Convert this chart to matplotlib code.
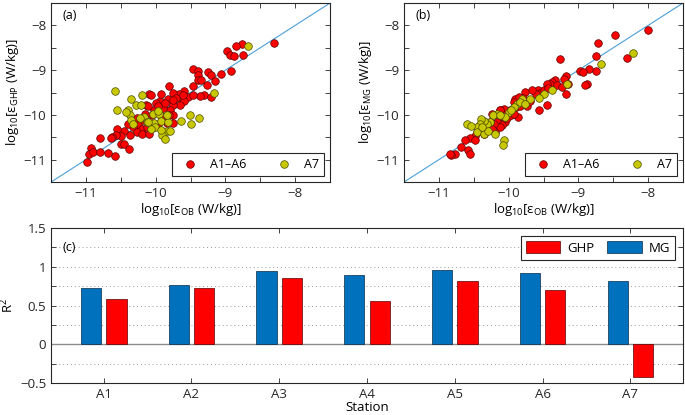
import matplotlib
matplotlib.use('Agg')
import matplotlib.pyplot as plt
from matplotlib.ticker import MultipleLocator

plt.rcParams['font.family'] = ['Open Sans', 'DejaVu Sans']
plt.rcParams['mathtext.fontset'] = 'custom'
plt.rcParams['mathtext.rm'] = 'Open Sans'
plt.rcParams['mathtext.it'] = 'Open Sans:italic'
plt.rcParams['font.size'] = 9

# ---------- panel (a): GHP vs OB ----------
a_red_x = [-8.31, -8.76, -8.85, -8.98, -8.94, -8.87, -8.75, -8.92, -9.07, -9.25,
           -9.21, -9.15, -9.47, -9.40, -9.39, -9.40, -9.47, -9.31, -9.37, -9.20,
           -9.81, -9.60, -9.66, -9.63, -9.75, -9.71, -9.53, -9.60, -9.65, -9.75,
           -9.80, -9.75, -9.89, -9.94, -9.92, -10.00, -10.03, -10.10, -10.14, -10.05,
           -10.15, -10.18, -10.27, -10.25, -10.32, -10.20, -10.13, -10.40, -10.45, -10.37,
           -10.49, -10.56, -10.57, -10.63, -10.49, -10.46, -10.38, -10.64, -10.80, -10.93,
           -10.96, -10.90, -10.80, -10.69, -10.58, -10.98, -10.06, -10.27, -10.20, -10.10,
           -10.02, -9.96, -9.89, -9.84, -9.75, -9.81, -9.82, -9.75, -9.97, -9.87,
           -10.11, -9.92, -9.61, -9.46, -9.35, -9.26]
a_red_y = [-8.39, -8.42, -8.46, -8.57, -8.67, -8.69, -8.66, -9.01, -9.08, -9.04,
           -9.10, -9.24, -8.98, -9.01, -9.11, -9.21, -9.36, -9.56, -9.58, -9.60,
           -9.35, -9.46, -9.53, -9.62, -9.52, -9.62, -9.59, -9.69, -9.77, -9.77,
           -9.90, -10.01, -9.84, -9.68, -9.53, -9.73, -9.90, -9.54, -9.78, -10.00,
           -9.99, -10.12, -10.06, -10.22, -10.27, -10.31, -10.27, -10.20, -10.35, -10.46,
           -10.48, -10.31, -10.46, -10.50, -10.64, -10.66, -10.76, -10.52, -10.51, -10.73,
           -10.87, -10.83, -10.84, -10.85, -10.92, -11.05, -9.56, -10.38, -10.42, -10.42,
           -10.27, -10.20, -10.10, -10.18, -10.18, -10.01, -9.65, -9.67, -9.79, -9.74,
           -9.80, -10.03, -9.55, -9.56, -9.23, -9.33]
a_yel_x = [-8.68, -9.16, -10.58, -10.55, -10.36, -10.20, -10.28, -10.39, -10.37, -10.35,
           -10.32, -10.42, -10.21, -10.16, -10.13, -10.04, -9.95, -10.03, -10.01, -9.92,
           -9.82, -9.84, -9.80, -9.91, -9.87, -9.92, -9.63, -9.51, -9.49, -9.38,
           -9.96, -10.11, -10.23, -10.06, -9.84]
a_yel_y = [-8.46, -9.52, -9.47, -9.90, -9.65, -9.56, -9.77, -9.90, -10.01, -10.11,
           -10.21, -9.94, -9.77, -10.05, -10.16, -9.99, -9.99, -10.18, -10.27, -10.14,
           -10.16, -10.36, -10.37, -10.46, -10.53, -10.33, -10.14, -10.00, -10.21, -10.07,
           -9.92, -10.16, -10.07, -10.31, -10.01]

# ---------- panel (b): MG vs OB ----------
b_red_x = [-8.00, -8.47, -8.72, -8.75, -8.75, -8.30, -9.26, -8.85, -8.97, -8.93,
           -8.88, -8.91, -9.18, -9.20, -9.15, -9.18, -9.34, -9.38, -9.41, -9.45,
           -9.45, -9.56, -9.58, -9.55, -9.61, -9.67, -9.76, -9.80, -9.84, -9.91,
           -9.93, -9.89, -9.98, -10.06, -10.12, -10.14, -10.17, -10.05, -10.09, -10.12,
           -10.21, -10.27, -10.29, -10.36, -10.41, -10.45, -10.48, -10.55, -10.48, -10.63,
           -10.68, -10.77, -10.82, -10.84, -10.58, -10.56, -10.24, -10.13, -10.03, -9.97,
           -9.86, -9.84, -9.74, -9.69, -9.50, -9.43, -9.31, -9.24, -9.85, -9.92,
           -10.20, -10.36, -10.24]
b_red_y = [-8.10, -8.21, -8.39, -8.69, -9.01, -8.72, -8.74, -8.97, -9.01, -9.04,
           -9.30, -9.33, -9.14, -9.19, -9.30, -9.53, -9.23, -9.27, -9.30, -9.30,
           -9.77, -9.90, -9.44, -9.51, -9.54, -9.45, -9.49, -9.62, -9.68, -9.64,
           -9.71, -9.82, -9.90, -9.86, -9.90, -10.05, -10.16, -10.16, -10.23, -10.27,
           -10.21, -10.16, -10.27, -10.33, -10.27, -10.38, -10.48, -10.51, -10.57, -10.57,
           -10.72, -10.88, -10.90, -10.88, -10.79, -10.87, -9.97, -9.88, -10.06, -10.01,
           -10.05, -9.79, -9.81, -9.68, -9.44, -9.39, -9.34, -9.38, -9.60, -9.97,
           -10.38, -10.42, -10.31]
b_yel_x = [-8.21, -8.68, -9.16, -9.38, -9.50, -9.57, -9.69, -9.81, -9.88, -9.93,
           -10.00, -10.05, -10.17, -10.22, -10.27, -10.31, -10.36, -10.40, -10.41, -10.46,
           -10.46, -10.35, -10.20, -10.60, -10.54, -10.06, -10.08, -9.84, -9.76, -9.97,
           -10.12, -10.29, -10.38]
b_yel_y = [-8.62, -8.87, -9.30, -9.45, -9.53, -9.62, -9.65, -9.64, -9.75, -9.82,
           -9.94, -10.05, -9.97, -10.01, -10.16, -10.20, -10.14, -10.09, -10.21, -10.27,
           -10.38, -10.42, -10.42, -10.20, -10.24, -10.55, -10.68, -9.71, -9.75, -9.90,
           -10.01, -10.35, -10.26]

# ---------- panel (c): R^2 per station ----------
stations = ['A1', 'A2', 'A3', 'A4', 'A5', 'A6', 'A7']
r2_mg = [0.73, 0.77, 0.94, 0.89, 0.96, 0.92, 0.82]
r2_ghp = [0.58, 0.72, 0.855, 0.56, 0.81, 0.70, -0.42]

lims = [-11.5, -7.5]
red = '#ff0000'
yel = '#c8c800'
blue = '#0072bd'
axcol = '#262626'

fig = plt.figure(figsize=(6.85, 4.15), dpi=100)
ax_a = fig.add_axes([0.0745, 0.5614, 0.4073, 0.4313])
ax_b = fig.add_axes([0.5898, 0.5614, 0.4073, 0.4313])
ax_c = fig.add_axes([0.0745, 0.0771, 0.9226, 0.3735])


def style_axes(ax):
    for s in ax.spines.values():
        s.set_color(axcol)
        s.set_linewidth(0.8)
    ax.tick_params(which='both', direction='in', top=True, right=True,
                   length=3.5, width=0.6, colors=axcol, labelsize=9.5)


for ax, rx, ry, yx, yy, lab, yname in [
        (ax_a, a_red_x, a_red_y, a_yel_x, a_yel_y, '(a)', 'GHP'),
        (ax_b, b_red_x, b_red_y, b_yel_x, b_yel_y, '(b)', 'MG')]:
    ax.plot(lims, lims, color='#4a9fd8', lw=0.8, zorder=1)
    ax.scatter(rx, ry, s=30, c=red, edgecolors='#5a0000', linewidths=0.5,
               label='A1\u2013A6', zorder=3)
    ax.scatter(yx, yy, s=30, c=yel, edgecolors='#4a4a00', linewidths=0.5,
               label='A7', zorder=3)
    ax.set_xlim(lims)
    ax.set_ylim(lims)
    ax.xaxis.set_minor_locator(MultipleLocator(0.5))
    ax.yaxis.set_minor_locator(MultipleLocator(0.5))
    ax.set_xticks([-11, -10, -9, -8])
    ax.set_xticklabels(['\u221211', '\u221210', '\u22129', '\u22128'])
    ax.set_yticks([-11, -10, -9, -8])
    ax.set_yticklabels(['\u221211', '\u221210', '\u22129', '\u22128'])
    style_axes(ax)
    ax.text(0.04, 0.93, lab, transform=ax.transAxes, fontsize=9, va='center')
    ax.set_xlabel('log$_{10}$[\u03b5$_{\\mathrm{OB}}$ (W/kg)]', fontsize=9.5, labelpad=1)
    ax.set_ylabel('log$_{10}$[\u03b5$_{\\mathrm{' + yname + '}}$ (W/kg)]', fontsize=9.5, labelpad=2)
    leg = ax.legend(loc='lower right', ncol=2, fancybox=False, framealpha=1,
                    edgecolor=axcol, fontsize=9, handletextpad=0.6,
                    columnspacing=2.0, borderaxespad=0.5, scatterpoints=1)
    leg.get_frame().set_linewidth(0.8)

x = list(range(1, len(stations) + 1))
w = 0.23
off = 0.145
ax_c.bar([i + off for i in x], r2_ghp, width=w, color=red, edgecolor='#5a0000',
         linewidth=0.5, label='GHP', zorder=3)
ax_c.bar([i - off for i in x], r2_mg, width=w, color=blue, edgecolor='#0a2a45',
         linewidth=0.5, label='MG', zorder=3)
ax_c.axhline(0, color='#8c8c8c', lw=1.0, zorder=2)
ax_c.set_xlim(0.4, 7.6)
ax_c.set_ylim(-0.5, 1.5)
ax_c.set_xticks(x)
ax_c.set_xticklabels(stations)
ax_c.set_yticks([-0.5, 0, 0.5, 1, 1.5])
ax_c.set_yticklabels(['\u22120.5', '0', '0.5', '1', '1.5'])
ax_c.yaxis.set_minor_locator(MultipleLocator(0.25))
ax_c.grid(axis='y', which='both', linestyle=(0, (1, 3)), color='#9a9a9a', lw=0.7)
style_axes(ax_c)
ax_c.tick_params(axis='x', which='minor', bottom=False, top=False)
ax_c.text(0.018, 0.875, '(c)', transform=ax_c.transAxes, fontsize=9, va='center')
ax_c.set_xlabel('Station', fontsize=9.5, labelpad=0)
ax_c.set_ylabel('R$^{2}$', fontsize=9.5)
ax_c.yaxis.set_label_coords(-0.055, 0.5)
leg = ax_c.legend(loc='upper right', ncol=2, fancybox=False, framealpha=1,
                  edgecolor=axcol, fontsize=9.5, handlelength=2.6, handleheight=1.0,
                  handletextpad=0.5, columnspacing=1.0, borderaxespad=0.6)
leg.get_frame().set_linewidth(0.8)

fig.savefig('out.png', dpi=100)
